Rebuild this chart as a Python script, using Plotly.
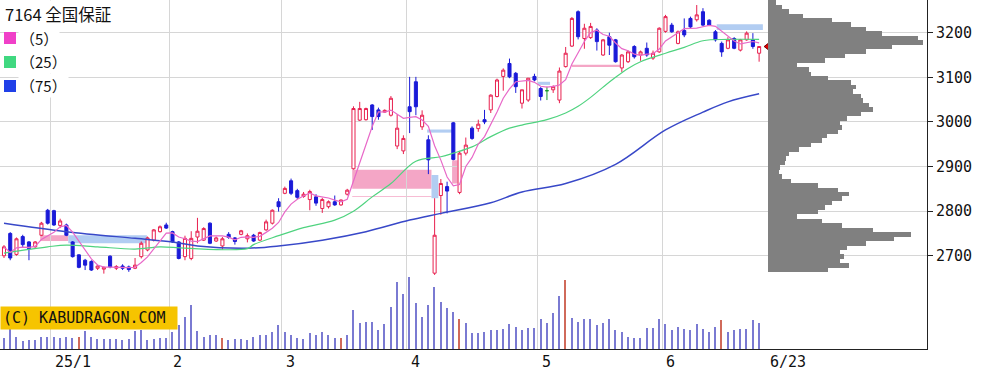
import plotly.graph_objects as go
import pandas as pd
import numpy as np

TITLE = "7164 全国保証"

# daily OHLC (trading days 2024/12/19 .. 2025/06/23)
OPEN = [2700, 2750, 2703, 2743, 2731, 2720, 2746, 2802, 2801, 2768,
        2769, 2731, 2702, 2690, 2687, 2672, 2670, 2699, 2672, 2677,
        2675, 2672, 2698, 2713, 2735, 2754, 2769, 2754, 2731, 2698,
        2694, 2742, 2735, 2773, 2733, 2722, 2748, 2740, 2748, 2738,
        2746, 2735, 2758, 2773, 2821, 2840, 2868, 2846, 2833, 2826,
        2832, 2806, 2810, 2821, 2814, 2838, 2895, 3004, 3005, 3038,
        3027, 3022, 3015, 2946, 2935, 3034, 3090, 2989, 2960, 2661,
        2835, 2855, 2998, 2842, 2930, 2986, 2985, 3005, 3027, 3057,
        3102, 3131, 3109, 3042, 3049, 3102, 3075, 3070, 3072, 3049,
        3124, 3170, 3247, 3187, 3189, 3206, 3150, 3191, 3184, 3121,
        3135, 3169, 3150, 3165, 3143, 3157, 3203, 3217, 3176, 3205,
        3232, 3229, 3247, 3228, 3202, 3176, 3165, 3187, 3161, 3184,
        3184, 3154]
HIGH = [2724, 2753, 2741, 2747, 2733, 2733, 2776, 2805, 2803, 2783,
        2772, 2733, 2703, 2693, 2690, 2679, 2676, 2701, 2679, 2681,
        2678, 2695, 2732, 2743, 2760, 2768, 2774, 2756, 2733, 2745,
        2755, 2785, 2764, 2775, 2743, 2742, 2753, 2742, 2758, 2750,
        2749, 2754, 2781, 2804, 2829, 2855, 2873, 2850, 2843, 2848,
        2838, 2830, 2824, 2835, 2826, 2850, 3035, 3045, 3032, 3040,
        3032, 3028, 3058, 3017, 2970, 3101, 3101, 3026, 2970, 2829,
        2872, 2866, 3000, 2935, 2965, 2990, 3005, 3027, 3062, 3097,
        3120, 3142, 3112, 3072, 3098, 3108, 3078, 3079, 3082, 3122,
        3168, 3235, 3250, 3220, 3222, 3210, 3186, 3200, 3186, 3152,
        3160, 3172, 3160, 3178, 3160, 3212, 3240, 3222, 3205, 3232,
        3236, 3262, 3255, 3230, 3206, 3180, 3190, 3190, 3186, 3203,
        3199, 3169]
LOW = [2695, 2690, 2700, 2718, 2690, 2718, 2744, 2770, 2767, 2762,
       2744, 2696, 2672, 2668, 2666, 2668, 2660, 2672, 2668, 2668,
       2664, 2670, 2694, 2710, 2732, 2752, 2760, 2729, 2692, 2690,
       2690, 2728, 2733, 2726, 2731, 2714, 2738, 2725, 2746, 2730,
       2731, 2733, 2756, 2770, 2799, 2838, 2836, 2827, 2830, 2802,
       2812, 2796, 2806, 2812, 2812, 2835, 2893, 3002, 3003, 2982,
       3005, 3020, 3012, 2939, 2928, 2975, 3015, 2982, 2883, 2657,
       2792, 2795, 2914, 2838, 2925, 2960, 2978, 2995, 3020, 3055,
       3070, 3098, 3065, 3030, 3045, 3091, 3048, 3049, 3065, 3042,
       3122, 3168, 3185, 3164, 3186, 3160, 3148, 3150, 3133, 3112,
       3132, 3142, 3137, 3146, 3139, 3155, 3200, 3200, 3174, 3190,
       3210, 3225, 3214, 3215, 3180, 3146, 3163, 3163, 3158, 3182,
       3164, 3135]
CLOSE = [2720, 2695, 2738, 2725, 2716, 2731, 2773, 2773, 2769, 2778,
         2746, 2698, 2674, 2679, 2668, 2677, 2674, 2675, 2676, 2672,
         2669, 2679, 2728, 2740, 2758, 2765, 2762, 2731, 2694, 2739,
         2739, 2755, 2761, 2728, 2740, 2738, 2741, 2732, 2756, 2745,
         2733, 2752, 2776, 2802, 2810, 2851, 2840, 2831, 2838, 2844,
         2818, 2826, 2821, 2814, 2825, 2847, 3030, 3030, 3030, 3012,
         3012, 3026, 3053, 2986, 2963, 3023, 3034, 3015, 2915, 2746,
         2862, 2845, 2916, 2930, 2948, 2963, 2995, 3000, 3060, 3094,
         3116, 3101, 3079, 3072, 3098, 3094, 3057, 3070, 3079, 3114,
         3154, 3232, 3191, 3210, 3214, 3180, 3184, 3172, 3135, 3150,
         3157, 3146, 3157, 3150, 3154, 3210, 3236, 3202, 3202, 3195,
         3213, 3240, 3217, 3217, 3184, 3157, 3184, 3165, 3184, 3199,
         3169, 3169]
VOLUME = [11, 42, 12, 8, 9, 9, 12, 12, 12, 11, 12, 11, 12, 18, 12, 10, 10, 10, 10, 9,
          10, 18, 19, 9, 10, 11, 11, 17, 24, 32, 44, 18, 12, 14, 14, 11, 9, 10, 10, 9,
          12, 14, 14, 17, 24, 17, 14, 11, 10, 16, 14, 17, 14, 11, 11, 14, 39, 26, 27, 27,
          19, 25, 42, 67, 55, 72, 46, 32, 44, 62, 47, 41, 37, 30, 26, 16, 16, 17, 19, 19,
          20, 25, 22, 19, 21, 21, 30, 26, 36, 53, 69, 31, 27, 30, 30, 24, 26, 30, 19, 17,
          12, 11, 11, 21, 21, 30, 25, 19, 22, 20, 19, 25, 20, 17, 22, 29, 17, 19, 20, 20,
          29, 26]
VOL_RED_DAYS = [12, 35, 54, 73, 90, 115]
DOJI_DAYS = [87]

MA25_IDX = [0, 7, 10, 15, 21, 25, 29, 39, 40, 44, 48, 53, 56, 59, 62, 66, 70, 72, 75,
            78, 81, 83, 87, 90, 92, 94, 96, 98, 100, 102, 106, 109, 112, 116, 121]
MA25_VAL = [2706, 2720, 2724, 2720, 2715, 2720, 2717, 2716, 2725, 2745, 2763, 2780,
            2800, 2832, 2862, 2912, 2922, 2930, 2944, 2967, 2986, 2993, 3005, 3020,
            3035, 3055, 3078, 3100, 3120, 3135, 3154, 3167, 3182, 3185, 3185]
MA75_IDX = [0, 10, 21, 27, 31, 39, 44, 51, 58, 65, 70, 78, 83, 90, 98, 106, 112, 116, 121]
MA75_VAL = [2773, 2754, 2739, 2731, 2722, 2717, 2722, 2735, 2754, 2780, 2795, 2819,
            2843, 2862, 2905, 2982, 3022, 3045, 3063]

# price gaps (window) boxes: start idx, end idx, low, high
GAP_UP = [(5.8, 10.3, 2733, 2746), (55.8, 68.5, 2850, 2893), (71.8, 72.7, 2862, 2914),
          (91.0, 98.7, 3123, 3128), (55.8, 68.5, 2832, 2834)]
GAP_DOWN = [(10.3, 22.9, 2728, 2746), (68.5, 69.6, 2829, 2881), (67.8, 71.8, 2976, 2983),
            (85.5, 87.5, 3083, 3090), (114.2, 121.6, 3206, 3219)]

# volume by price profile
PROFILE_PRICE = [3268, 3258, 3248, 3238, 3228, 3218, 3208, 3198, 3188, 3178, 3168, 3158,
                 3148, 3138, 3128, 3118, 3108, 3098, 3088, 3078, 3068, 3058, 3048, 3038,
                 3028, 3018, 3008, 2998, 2988, 2978, 2968, 2958, 2948, 2938, 2928, 2918,
                 2908, 2898, 2888, 2878, 2868, 2858, 2848, 2838, 2828, 2818, 2808, 2798,
                 2788, 2778, 2768, 2758, 2748, 2738, 2728, 2718, 2708, 2698, 2688, 2678, 2668]
PROFILE_VOL = [8, 14, 20, 34, 62, 80, 95, 110, 145, 150, 120, 95, 75, 55, 28, 40, 42, 58,
               80, 85, 82, 90, 92, 98, 102, 90, 76, 70, 72, 68, 57, 52, 42, 30, 20, 17, 16,
               12, 11, 14, 22, 48, 68, 78, 72, 62, 55, 48, 28, 52, 72, 102, 138, 122, 95,
               76, 70, 74, 70, 78, 58]

MONTH_START_IDX = [8, 27, 45, 65, 86, 106]
MONTH_LABELS = ["25/1", "2", "3", "4", "5", "6"]
LAST_LABEL = "6/23"
YTICKS = [2700, 2800, 2900, 3000, 3100, 3200]

# ---- style ----
W, H = 994, 372
PL, PR, PT, PB = 0, 67, 0, 23
PW, PH = W - PL - PR, H - PT - PB
UP = "#e8204f"
DOWN = "#1a1ad8"
C5, C25, C75 = "#e868c8", "#4fd37f", "#3848c8"
GRID = "#d6d6d6"
MONO = "DejaVu Sans Mono"
CJK = "Noto Sans CJK JP"


def fx(px):
    return px / PW


def fy(py):
    return 1 - py / PH


idx = np.arange(len(CLOSE))
ma5 = pd.Series(CLOSE).rolling(5, min_periods=1).mean()

fig = go.Figure()

# moving averages
fig.add_trace(go.Scatter(x=MA75_IDX, y=MA75_VAL, mode="lines", line=dict(color=C75, width=1.5),
                         line_shape="spline", hoverinfo="skip"))
fig.add_trace(go.Scatter(x=MA25_IDX, y=MA25_VAL, mode="lines", line=dict(color=C25, width=1.2),
                         line_shape="spline", hoverinfo="skip"))
fig.add_trace(go.Scatter(x=idx, y=ma5, mode="lines", line=dict(color=C5, width=1.2),
                         hoverinfo="skip"))

# candles
main = [i for i in idx if i not in DOJI_DAYS]
fig.add_trace(go.Candlestick(
    x=main, open=[OPEN[i] for i in main], high=[HIGH[i] for i in main],
    low=[LOW[i] for i in main], close=[CLOSE[i] for i in main],
    increasing=dict(line=dict(color=UP, width=1), fillcolor="white"),
    decreasing=dict(line=dict(color=DOWN, width=1), fillcolor=DOWN),
    whiskerwidth=0))
fig.add_trace(go.Candlestick(
    x=DOJI_DAYS, open=[OPEN[i] for i in DOJI_DAYS], high=[HIGH[i] for i in DOJI_DAYS],
    low=[LOW[i] for i in DOJI_DAYS], close=[CLOSE[i] for i in DOJI_DAYS],
    increasing=dict(line=dict(color="#1a9a2a", width=1), fillcolor="#1a9a2a"),
    decreasing=dict(line=dict(color="#1a9a2a", width=1), fillcolor="#1a9a2a"),
    whiskerwidth=0))

# volume
vcol = ["#d06a5a" if i in VOL_RED_DAYS else "#7a7ad2" for i in idx]
fig.add_trace(go.Bar(x=idx, y=VOLUME, yaxis="y2", marker=dict(color=vcol, line=dict(width=0)),
                     width=0.22))

# volume profile
fig.add_trace(go.Bar(y=PROFILE_PRICE, x=PROFILE_VOL, orientation="h", xaxis="x2", yaxis="y",
                     width=10, marker=dict(color="#808080", line=dict(width=0))))

# last price marker
fig.add_trace(go.Scatter(x=[len(CLOSE) - 1 + 1.6], y=[CLOSE[-1]], mode="markers",
                         marker=dict(symbol="triangle-left", size=10, color="#e00000",
                                     line=dict(color="#700000", width=1))))

shapes = []
for x0, x1, lo, hi in GAP_UP:
    shapes.append(dict(type="rect", xref="x", yref="y", x0=x0, x1=x1, y0=lo, y1=hi,
                       fillcolor="#f4a6c6", line=dict(width=0), layer="below"))
for x0, x1, lo, hi in GAP_DOWN:
    shapes.append(dict(type="rect", xref="x", yref="y", x0=x0, x1=x1, y0=lo, y1=hi,
                       fillcolor="#b2cdf2", line=dict(width=0), layer="below"))

# legend squares
legend_rows = [("（5）", 38, "#f040c8"), ("（25）", 62, "#40d880"), ("（75）", 86, "#2040e8")]
annotations = [dict(text=TITLE, xref="paper", yref="paper", x=fx(3), y=fy(14), xanchor="left",
                    yanchor="middle", showarrow=False, font=dict(family=CJK, size=16.5, color="#111"),
                    bgcolor="white")]
for label, cy, sq in legend_rows:
    shapes.append(dict(type="rect", xref="paper", yref="paper", x0=fx(4), x1=fx(16),
                       y0=fy(cy + 6), y1=fy(cy - 6), fillcolor=sq, line=dict(width=0)))
    annotations.append(dict(text=label, xref="paper", yref="paper", x=fx(18), y=fy(cy),
                            xanchor="left", yanchor="middle", showarrow=False,
                            font=dict(family=CJK, size=15, color="#111"), bgcolor="white"))

for m, lab in zip(MONTH_START_IDX, MONTH_LABELS):
    annotations.append(dict(text=lab, xref="x", yref="paper", x=m - 0.5, y=0, xanchor="left",
                            yanchor="top", xshift=2, yshift=-2, showarrow=False,
                            font=dict(family=MONO, size=15, color="#111")))
annotations.append(dict(text=LAST_LABEL, xref="x", yref="paper", x=len(CLOSE) - 1, y=0,
                        xanchor="left", yanchor="top", xshift=9, yshift=-2, showarrow=False,
                        font=dict(family=MONO, size=15, color="#111")))

annotations.append(dict(text="(C) KABUDRAGON.COM", xref="paper", yref="paper", x=0, y=fy(318),
                        xanchor="left", yanchor="middle", showarrow=False, bgcolor="#f6c400",
                        borderpad=2, width=172, align="left",
                        font=dict(family=MONO, size=15, color="#111")))

price_top = 3273.3
price_bot = 2491.0
fig.update_layout(
    width=W, height=H, margin=dict(l=PL, r=PR, t=PT, b=PB),
    paper_bgcolor="white", plot_bgcolor="white", showlegend=False,
    bargap=0,
    xaxis=dict(range=[-0.64, 147.9], tickvals=[m - 0.5 for m in MONTH_START_IDX],
               showticklabels=False, ticks="", showgrid=True, gridcolor=GRID, gridwidth=1,
               zeroline=False, showline=True, linecolor="#222", linewidth=1,
               rangeslider=dict(visible=False)),
    xaxis2=dict(domain=[768 / PW, 1], anchor="y", range=[0, max(PROFILE_VOL) * 1.026],
                visible=False),
    yaxis=dict(range=[price_bot, price_top], side="right", tickvals=YTICKS,
               ticks="outside", ticklen=5, tickcolor="#222", showline=True, linecolor="#222",
               linewidth=1, showgrid=True, gridcolor=GRID, gridwidth=1, zeroline=False,
               tickfont=dict(family=MONO, size=15, color="#111")),
    yaxis2=dict(overlaying="y", range=[0, max(VOLUME) / 0.206], visible=False),
    shapes=shapes, annotations=annotations,
)

fig.write_html("out.html", config={"displayModeBar": False},
               post_script="document.body.style.margin='0';document.body.style.overflow='hidden';")
